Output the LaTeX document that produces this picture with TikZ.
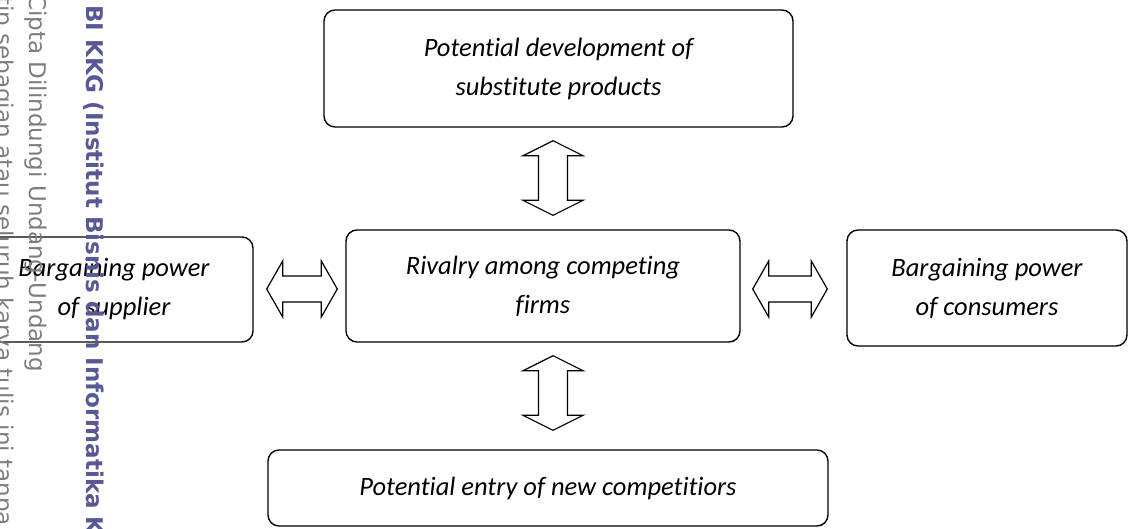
\documentclass[tikz,border=0pt]{standalone}
\usepackage{fontspec}
\setmainfont{Carlito}[RawFeature={-liga;-clig;-dlig}]
\newfontfamily\markfont{DejaVu Sans}
\usetikzlibrary{calc}
\definecolor{markgray}{RGB}{125,125,125}
\definecolor{markblue}{RGB}{88,88,150}

% double-headed block arrow, vertical, between two points (top, bottom)
\newcommand{\vertarrow}[2]{%
  \draw[blockarrow] (#1) -- ++(30,15) -- ++(-15.5,0)
    -- ([shift={(14.5,-15)}]#2) -- ++(15.5,0) -- (#2)
    -- ++(-30,-15) -- ++(15.5,0)
    -- ([shift={(-14.5,15)}]#1) -- ++(-15.5,0) -- cycle;}
% double-headed block arrow, horizontal, between two points (left, right)
\newcommand{\horizarrow}[2]{%
  \draw[blockarrow] (#1) -- ++(16,-28) -- ++(0,15)
    -- ([shift={(-16,-13)}]#2) -- ++(0,-15) -- (#2)
    -- ++(-16,28) -- ++(0,-15)
    -- ([shift={(16,13)}]#1) -- ++(0,15) -- cycle;}

\begin{document}
\begin{tikzpicture}[x=1pt,y=-1pt,
  force/.style={draw, line width=1.4pt, rounded corners=11pt, align=center,
    inner sep=0pt, font=\itshape\fontsize{26.5}{39}\selectfont},
  blockarrow/.style={draw, line width=1.2pt, line join=miter, fill=white},
  markline/.style={rotate=-90, anchor=base west, inner sep=0pt,
    font=\markfont\fontsize{23}{23}\selectfont, text=markgray}]
\useasboundingbox (0,0) rectangle (1128,528);
\begin{scope}
\clip (0,0) rectangle (1128,528);

% the five forces
\node[force, minimum width=469pt, minimum height=117pt] (subst) at (558.5,68.5)
  {Potential development of\\substitute products};
\node[force, minimum width=278pt, minimum height=105pt] (sup) at (114,289.5)
  {Bargaining power\\of supplier};
\node[force, minimum width=394pt, minimum height=112pt] (mid) at (543,286)
  {Rivalry among competing\\firms};
\node[force, minimum width=280pt, minimum height=116pt] (con) at (987,288)
  {Bargaining power\\of consumers};
\node[force, minimum width=560pt, minimum height=76pt] (entry) at (548,488)
  {Potential entry of new competitiors};

% arrow end points
\coordinate (aU1) at ($(subst.south)+(-5.5,13)$);
\coordinate (aU2) at ($(mid.north)+(10,-14)$);
\coordinate (aD1) at ($(mid.south)+(10,13)$);
\coordinate (aD2) at ($(entry.north)+(5,-19)$);
\coordinate (aL1) at ($(sup.east)+(13,-0.5)$);
\coordinate (aL2) at ($(mid.west)+(-8,3)$);
\coordinate (aR1) at ($(mid.east)+(12,3)$);
\coordinate (aR2) at ($(con.west)+(-19,1)$);

\vertarrow{aU1}{aU2}
\vertarrow{aD1}{aD2}
\horizarrow{aL1}{aL2}
\horizarrow{aR1}{aR2}

% vertical margin notes
\node[markline] (note1) at (-4,-4) {tip sebagian atau seluruh karya tulis ini tanpa};
\node[markline] (note2) at (30,-6) {Cipta Dilindungi Undang-Undang};
\node[markline, font=\markfont\bfseries\fontsize{23}{23}\selectfont, text=markblue]
  (note3) at (86,5) {BI KKG (Institut Bisnis dan Informatika K};
\end{scope}
\end{tikzpicture}
\end{document}
